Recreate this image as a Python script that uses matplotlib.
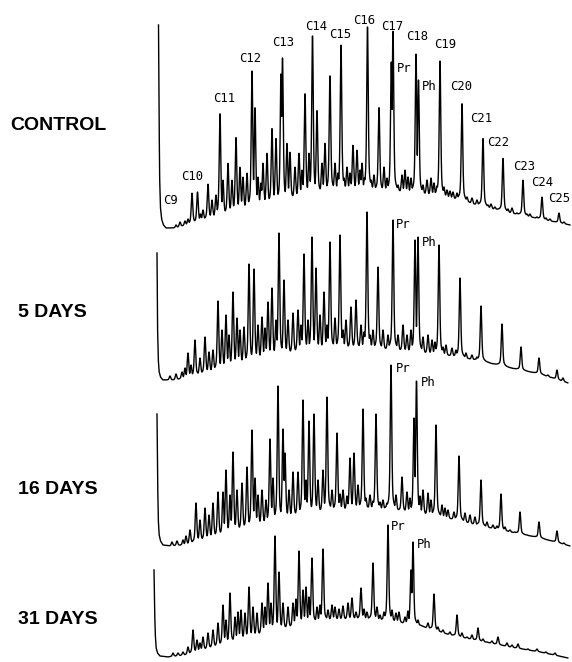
import numpy as np
import matplotlib.pyplot as plt

plt.rcParams['font.family'] = ['Liberation Sans', 'DejaVu Sans']

# --- control ---
CTRL_BASE_RT = [158.5, 159.1, 159.7, 160.5, 161.6, 163.5, 166, 175, 190, 210, 240, 270,
                300, 330, 360, 390, 420, 450, 480, 510, 540, 570]
CTRL_BASE = [203, 108, 48, 20, 9, 3, 0, 0, 4, 10, 18, 25, 31, 37, 38, 36, 34, 30, 22, 15, 9, 3]
CTRL_PEAK_RT = [176, 180, 185, 188, 192, 197.5, 200.5, 203, 208, 212, 216, 220, 223, 228, 232,
                236, 240, 243, 247, 252, 255, 258, 261, 263, 267, 272, 276, 281, 282.5, 287,
                290, 295, 299, 302, 305, 309, 312.5, 317, 322, 325, 330, 335, 338, 341, 344,
                347, 350, 353, 357, 360, 362, 364.5, 367.5, 371, 374, 379, 384, 387, 391.3,
                393, 398, 402, 405, 408, 411, 416, 418.5, 423, 427, 431, 434, 437, 440, 444,
                447, 450, 453, 457, 462, 467, 472, 477, 483, 488, 491, 495, 500, 503, 508,
                512, 517, 523, 527, 530, 537, 542, 546, 550, 559, 564]
CTRL_PEAK = [3, 6, 7, 9, 35, 36, 14, 18, 44, 28, 33, 115, 48, 65, 48,
             91, 61, 51, 55, 158, 121, 51, 45, 65, 75, 100, 90, 155, 170, 85,
             76, 61, 75, 58, 135, 75, 192, 118, 65, 85, 153, 65, 55, 184, 50,
             61, 55, 83, 78, 58, 65, 50, 201, 48, 53, 121, 61, 50, 166,
             198, 43, 53, 58, 51, 50, 175, 148, 43, 48, 50, 45, 42, 168, 41,
             38, 37, 36, 35, 125, 31, 30, 28, 90, 23, 24, 21, 20, 70, 19,
             20, 15, 48, 14, 14, 11, 31, 10, 9, 15, 6]

# --- 5 days ---
D5_BASE_RT = [157, 157.6, 158.3, 159.2, 160.5, 163, 175, 190, 210, 240, 270, 300, 330,
              360, 390, 420, 450, 480, 510, 540, 568]
D5_BASE = [127, 50, 20, 8, 3, 0, 0, 3, 8, 16, 23, 28, 31, 32, 30, 27, 24, 19, 12, 6, -3]
D5_PEAK_RT = [170, 176, 182, 185, 188, 191, 195, 200, 205, 209, 213, 218, 222, 226, 229,
              233, 237, 240, 244, 249, 254, 258, 262, 265, 268, 272, 276, 279, 284, 288,
              293, 298, 301, 304, 308, 312, 316, 320, 324, 327, 330, 335, 340, 343, 346,
              351, 356, 361, 364, 367, 370, 373, 378, 383, 388, 393, 398, 403, 407, 411,
              415, 418, 423, 428, 432, 435, 439, 443, 446, 452, 456, 460, 466, 472, 477,
              481, 488, 495, 502, 506, 510, 515, 521, 526, 530, 539, 548, 557, 563]
D5_PEAK = [4, 6, 8, 12, 27, 15, 40, 22, 43, 28, 30, 79, 50, 65, 45,
           88, 62, 50, 53, 116, 111, 55, 63, 52, 78, 92, 60, 147, 100, 60,
           67, 70, 55, 126, 60, 143, 112, 65, 88, 55, 138, 62, 145, 50, 60,
           73, 80, 55, 48, 168, 45, 50, 113, 50, 45, 160, 45, 55, 45, 50,
           140, 143, 43, 45, 40, 38, 135, 33, 35, 32, 30, 102, 27, 25, 23,
           74, 18, 16, 56, 14, 12, 11, 33, 9, 7, 22, 5, 10, 2]

# --- 16 days ---
D16_BASE_RT = [157, 157.6, 158.3, 159.2, 160.5, 163, 170, 185, 210, 240, 270, 300, 330,
               360, 390, 420, 450, 480, 510, 540, 570]
D16_BASE = [132, 66, 26, 11, 5, 1, 0, 1, 8, 16, 24, 31, 35, 37, 36, 32, 27, 20, 14, 8, 0]
D16_PEAK_RT = [172, 177, 183, 186, 190, 196, 200, 205, 209, 213, 218, 223, 226, 230, 233,
               237, 242, 247, 252, 255, 258, 262, 266, 270, 273, 278, 283, 285, 289, 293,
               298, 303, 306, 309, 314, 318, 323, 327, 332, 337, 340, 343, 347, 350, 354,
               358, 363, 366, 370, 373, 376, 380, 383, 387, 391, 396, 402, 407, 410, 414,
               416.5, 420, 423, 428, 431, 436, 442, 445, 448, 454, 459, 465, 470, 475, 481,
               487, 493, 497, 501, 505, 510, 515, 520, 527, 533, 539, 548, 557, 564]
D16_PEAK = [4, 5, 6, 10, 16, 43, 26, 38, 31, 43, 54, 54, 76, 51, 94,
            56, 63, 79, 116, 68, 51, 56, 46, 107, 68, 160, 117, 93, 56, 74,
            74, 146, 66, 125, 132, 66, 76, 149, 56, 113, 52, 56, 50, 88, 93,
            61, 137, 48, 51, 45, 132, 44, 46, 43, 181, 51, 69, 54, 48, 128,
            166, 50, 56, 53, 46, 121, 41, 38, 36, 34, 90, 33, 31, 29, 66,
            24, 21, 20, 52, 19, 16, 14, 34, 11, 9, 24, 6, 15, 3]

# --- 31 days ---
D31_BASE_RT = [154, 154.6, 155.3, 156.2, 157.5, 160, 168, 185, 210, 240, 270, 300, 330,
               360, 390, 420, 450, 480, 510, 540, 568]
D31_BASE = [87, 47, 22, 9, 4, 1, 0, 2, 9, 17, 25, 32, 37, 38, 36, 31, 22, 16, 10, 5, -1]
D31_PEAK_RT = [173, 178, 183, 188, 193, 197, 200, 203, 208, 213, 218, 223, 226, 230, 235,
               238, 241, 245, 249, 253, 257, 262, 265, 268, 271, 275, 279, 283, 288, 293,
               296, 299, 303, 306, 309, 312, 317, 320, 323, 328, 332, 335, 339, 343, 348,
               352, 356, 361, 364, 367, 373, 377, 380, 384, 388, 392, 396, 399, 405, 408,
               411, 413, 418, 423, 428, 434, 438, 443, 450, 457, 462, 467, 472, 478, 483,
               487, 492, 498, 507, 512, 518, 528, 537, 546, 555]
D31_PEAK = [4, 4, 5, 10, 27, 17, 14, 20, 24, 27, 34, 52, 37, 64, 40,
            45, 47, 44, 70, 50, 44, 54, 50, 74, 54, 121, 85, 54, 50, 54,
            58, 106, 67, 70, 60, 99, 50, 52, 108, 47, 52, 50, 48, 51, 54,
            59, 45, 69, 48, 45, 94, 50, 42, 45, 132, 47, 44, 45, 40, 46,
            87, 115, 37, 30, 34, 63, 30, 27, 25, 42, 24, 20, 22, 29, 18,
            15, 16, 20, 14, 12, 13, 8, 8, 5, 4]

# peak labels on the control trace
ALKANES = ['C9', 'C10', 'C11', 'C12', 'C13', 'C14', 'C15', 'C16', 'C17',
           'C18', 'C19', 'C20', 'C21', 'C22', 'C23', 'C24', 'C25']
ALKANE_LABEL_RT = [171, 192.5, 224, 250, 283.5, 316, 340, 364, 392.5,
                   417, 445, 461, 481.5, 498.5, 524, 542.5, 559]
ALKANE_LABEL_Y = [28, 51, 130, 169, 185, 201, 193, 208, 201,
                  191, 183, 142, 110, 85, 61, 45, 29]

# Pr / Ph label positions for each trace
PR_LABEL_RT = [404.5, 403.5, 403.5, 398.5]
PR_LABEL_Y = [160, 155, 178, 130]
PH_LABEL_RT = [429.5, 429.5, 428.5, 424.5]
PH_LABEL_Y = [142, 137, 163, 113]

SAMPLES = ['CONTROL', '5 DAYS', '16 DAYS', '31 DAYS']
TRACES = [
    (CTRL_BASE_RT, CTRL_BASE, CTRL_PEAK_RT, CTRL_PEAK),
    (D5_BASE_RT, D5_BASE, D5_PEAK_RT, D5_PEAK),
    (D16_BASE_RT, D16_BASE, D16_PEAK_RT, D16_PEAK),
    (D31_BASE_RT, D31_BASE, D31_PEAK_RT, D31_PEAK),
]

# layout: where each trace's zero line sits (pixels from top) and the sample label
W, H = 572, 662
ZERO_PX = [228, 380, 546, 657]
LABEL_X = [10, 18, 18, 18]
LABEL_Y = [125.5, 312, 489, 619]


def chromatogram(base_rt, base, peak_rt, peak_top):
    rt = np.arange(base_rt[0], base_rt[-1], 0.2)
    b = np.interp(rt, base_rt, base)
    prt = np.array(peak_rt, dtype=float)
    h = np.clip(np.array(peak_top) - np.interp(prt, base_rt, base), 0, None)
    d = rt[:, None] - prt[None, :]
    shape = 0.8 * np.exp(-0.5 * (d / 0.7) ** 2) + 0.2 / (1 + (d / 1.8) ** 2)
    return rt, b + (h * shape).max(axis=1)


fig = plt.figure(figsize=(W / 100, H / 100), dpi=100)

for i, (brt, bl, prt, ptop) in enumerate(TRACES):
    ax = fig.add_axes([0, 0, 1, 1])
    ax.set_xlim(0, W)
    ax.set_ylim(ZERO_PX[i] - H, ZERO_PX[i])
    ax.axis('off')
    ax.patch.set_alpha(0)
    rt, sig = chromatogram(brt, bl, prt, ptop)
    ax.plot(rt, sig, color='black', lw=1.0)

    lab_font = dict(family='DejaVu Sans Mono', fontsize=8.8, ha='center', va='center')
    ax.text(PR_LABEL_RT[i], PR_LABEL_Y[i], 'Pr', **lab_font)
    ax.text(PH_LABEL_RT[i], PH_LABEL_Y[i], 'Ph', **lab_font)
    if i == 0:
        for name, x, y in zip(ALKANES, ALKANE_LABEL_RT, ALKANE_LABEL_Y):
            ax.text(x, y, name, **lab_font)

    fig.text(LABEL_X[i] / W, 1 - LABEL_Y[i] / H, SAMPLES[i], fontsize=14,
             fontweight='bold', ha='left', va='center')

fig.savefig('out.png', dpi=100)
